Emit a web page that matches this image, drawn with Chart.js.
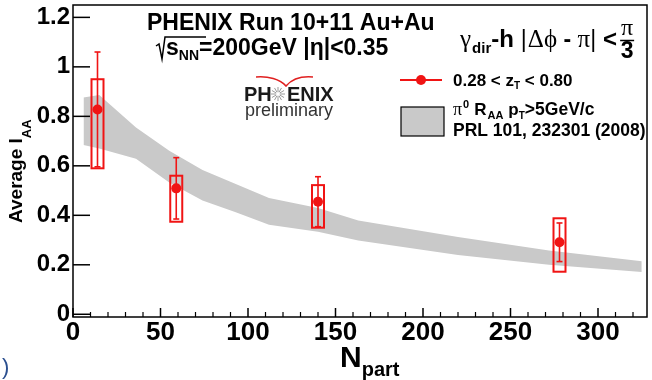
<!DOCTYPE html>
<html>
<head>
<meta charset="utf-8">
<title>Average IAA vs Npart</title>
<script src="https://cdn.jsdelivr.net/npm/chart.js@4"></script>
<style>
  html, body { margin: 0; padding: 0; background: #fff; }
  #wrap { position: relative; width: 652px; height: 380px; }
</style>
</head>
<body>
<div id="wrap"><canvas id="iaaChart"></canvas></div>
<script>
"use strict";

// gamma_dir-h points, 0.28 < zT < 0.80
const nPart = [14, 59, 140, 278];
const iAA = [0.828, 0.509, 0.455, 0.291];
const statErr = [0.232, 0.124, 0.101, 0.078];
const sysHigh = [0.122, 0.051, 0.067, 0.097];
const sysLow = [0.238, 0.135, 0.105, 0.119];

// pi0 RAA band (pT > 5 GeV/c)
const bandN = [6, 15, 36, 55, 74, 93, 112, 140, 163, 220, 272, 325];
const bandHigh = [0.876, 0.886, 0.755, 0.661, 0.583, 0.527, 0.470, 0.430, 0.379, 0.312, 0.258, 0.214];
const bandLow = [0.684, 0.670, 0.629, 0.533, 0.460, 0.412, 0.362, 0.334, 0.298, 0.240, 0.200, 0.171];

const xTicks = [0, 50, 100, 150, 200, 250, 300];
const yTicks = [0, 0.2, 0.4, 0.6, 0.8, 1, 1.2];

const RED = "#f01414";
const BAND = "#c9c9c9";
const SANS = '"Liberation Sans", Arial, sans-serif';
const SERIF = '"Liberation Serif", "Times New Roman", serif';

function line(ctx, x1, y1, x2, y2) {
  ctx.beginPath();
  ctx.moveTo(x1, y1);
  ctx.lineTo(x2, y2);
  ctx.stroke();
}

// draws a run of text pieces left to right, each with its own font and vertical shift
function drawRuns(ctx, x, y, runs) {
  for (const r of runs) {
    ctx.font = r.font;
    ctx.fillText(r.t, x, y + (r.dy || 0));
    x += ctx.measureText(r.t).width + (r.gap || 0);
  }
  return x;
}

const frameAndTicks = {
  id: "frameAndTicks",
  afterDraw(chart) {
    const { ctx, chartArea: a } = chart;
    const xs = chart.scales.x;
    const ys = chart.scales.y;
    ctx.save();
    ctx.strokeStyle = "#000";
    ctx.lineWidth = 1.5;
    ctx.strokeRect(a.left, a.top, a.right - a.left, a.bottom - a.top);
    for (const v of yTicks) {
      const y = ys.getPixelForValue(v);
      line(ctx, a.left, y, a.left + 17, y);
    }
    for (const v of xTicks) {
      const x = xs.getPixelForValue(v);
      line(ctx, x, a.bottom, x, a.bottom - 9);
    }
    ctx.lineWidth = 1.2;
    for (let v = 10; v < xs.max; v += 10) {
      if (v % 50 === 0) continue;
      const x = xs.getPixelForValue(v);
      line(ctx, x, a.bottom, x, a.bottom - 5);
    }
    ctx.restore();
  }
};

const errorBoxes = {
  id: "errorBoxes",
  afterDatasetsDraw(chart) {
    const { ctx } = chart;
    const xs = chart.scales.x;
    const ys = chart.scales.y;
    ctx.save();
    ctx.strokeStyle = RED;
    nPart.forEach((n, i) => {
      const x = xs.getPixelForValue(n);
      const yTop = ys.getPixelForValue(iAA[i] + sysHigh[i]);
      const yBot = ys.getPixelForValue(iAA[i] - sysLow[i]);
      ctx.lineWidth = 2;
      ctx.strokeRect(x - 6, yTop, 12, yBot - yTop);
      const sTop = ys.getPixelForValue(iAA[i] + statErr[i]);
      const sBot = ys.getPixelForValue(iAA[i] - statErr[i]);
      ctx.lineWidth = 1.6;
      line(ctx, x, sTop, x, sBot);
      line(ctx, x - 3, sTop, x + 3, sTop);
      line(ctx, x - 3, sBot, x + 3, sBot);
    });
    ctx.restore();
  }
};

const annotations = {
  id: "annotations",
  afterDraw(chart) {
    const { ctx } = chart;
    ctx.save();
    ctx.fillStyle = "#000";
    ctx.textBaseline = "alphabetic";
    ctx.textAlign = "left";

    // run info
    ctx.font = `bold 23px ${SANS}`;
    ctx.fillText("PHENIX Run 10+11 Au+Au", 147, 30);

    // sqrt(sNN) sign
    ctx.strokeStyle = "#000";
    ctx.lineWidth = 1.5;
    ctx.beginPath();
    ctx.moveTo(156, 46);
    ctx.lineTo(159, 44);
    ctx.lineTo(162, 59);
    ctx.lineTo(165, 37);
    ctx.lineTo(206, 37);
    ctx.stroke();
    drawRuns(ctx, 166, 55, [
      { t: "s", font: `bold 23px ${SANS}` },
      { t: "NN", font: `bold 14px ${SANS}`, dy: 5 },
      { t: "=200GeV |η|<0.35", font: `bold 23px ${SANS}` }
    ]);

    // correlation cut
    let x = drawRuns(ctx, 460, 47, [
      { t: "γ", font: `25px ${SERIF}`, gap: 1 },
      { t: "dir", font: `bold 15px ${SANS}`, dy: 6 },
      { t: "-h", font: `bold 24px ${SANS}`, gap: 7 },
      { t: "|", font: `23px ${SANS}`, gap: 1 },
      { t: "Δϕ", font: `25px ${SERIF}` },
      { t: " - ", font: `bold 23px ${SANS}` },
      { t: "π", font: `25px ${SERIF}` },
      { t: "|", font: `23px ${SANS}`, gap: 7 },
      { t: "<", font: `bold 24px ${SANS}`, gap: 3 }
    ]);
    ctx.textAlign = "center";
    ctx.font = `24px ${SERIF}`;
    ctx.fillText("π", x + 7, 35);
    ctx.font = `bold 23px ${SANS}`;
    ctx.fillText("3", x + 7, 58);
    ctx.lineWidth = 1.5;
    line(ctx, x, 40.5, x + 14, 40.5);
    ctx.textAlign = "left";

    // legend: data points
    ctx.strokeStyle = RED;
    ctx.fillStyle = RED;
    ctx.lineWidth = 2;
    line(ctx, 400, 80, 442, 80);
    ctx.beginPath();
    ctx.arc(421, 80, 5, 0, Math.PI * 2);
    ctx.fill();
    ctx.fillStyle = "#000";
    drawRuns(ctx, 453, 86, [
      { t: "0.28 < z", font: `bold 17px ${SANS}` },
      { t: "T", font: `bold 10px ${SANS}`, dy: 3 },
      { t: " < 0.80", font: `bold 17px ${SANS}` }
    ]);

    // legend: band
    ctx.fillStyle = BAND;
    ctx.fillRect(401, 107, 43, 29);
    ctx.strokeStyle = "#000";
    ctx.lineWidth = 1.2;
    ctx.strokeRect(401, 107, 43, 29);
    ctx.fillStyle = "#000";
    drawRuns(ctx, 453, 115, [
      { t: "π", font: `18px ${SERIF}`, gap: 1 },
      { t: "0", font: `bold 11px ${SANS}`, dy: -7, gap: 5 },
      { t: "R", font: `bold 17px ${SANS}`, gap: 1 },
      { t: "AA", font: `bold 11px ${SANS}`, dy: 4, gap: 5 },
      { t: "p", font: `bold 17px ${SANS}` },
      { t: "T", font: `bold 10px ${SANS}`, dy: 4 },
      { t: ">5GeV/c", font: `bold 17.5px ${SANS}` }
    ]);
    ctx.font = `bold 17.5px ${SANS}`;
    ctx.fillText("PRL 101, 232301 (2008)", 453, 136);

    // PHENIX preliminary logo
    ctx.strokeStyle = "#e02020";
    ctx.lineWidth = 1.6;
    ctx.beginPath();
    ctx.moveTo(256, 77);
    ctx.bezierCurveTo(268, 76, 280, 79, 286, 86);
    ctx.bezierCurveTo(292, 79, 302, 76, 313, 77);
    ctx.stroke();
    ctx.fillStyle = "#1a1a1a";
    ctx.font = `bold 20px ${SANS}`;
    ctx.fillText("PH", 244, 101);
    ctx.fillText("ENIX", 287, 101);
    ctx.strokeStyle = "#9a9a9a";
    ctx.lineWidth = 1;
    for (let k = 0; k < 12; k++) {
      const ang = (k * Math.PI) / 6;
      line(ctx, 278 + Math.cos(ang) * 2, 94 + Math.sin(ang) * 2, 278 + Math.cos(ang) * 7, 94 + Math.sin(ang) * 7);
    }
    ctx.fillStyle = "#333";
    ctx.font = `18px ${SANS}`;
    ctx.fillText("preliminary", 245, 116);

    // axis titles
    ctx.fillStyle = "#000";
    drawRuns(ctx, 340, 367, [
      { t: "N", font: `bold 30px ${SANS}` },
      { t: "part", font: `bold 20px ${SANS}`, dy: 9 }
    ]);
    ctx.save();
    ctx.translate(22, 223);
    ctx.rotate(-Math.PI / 2);
    drawRuns(ctx, 0, 0, [
      { t: "Average I", font: `bold 19px ${SANS}` },
      { t: "AA", font: `bold 13px ${SANS}`, dy: 9 }
    ]);
    ctx.restore();

    ctx.fillStyle = "#2b4f8f";
    ctx.font = `22px ${SANS}`;
    ctx.fillText(")", 2, 374);
    ctx.restore();
  }
};

function buildChart() {
  const ctx = document.getElementById("iaaChart");
  const tickFont = (size) => ({ family: SANS, size, weight: "bold" });

  return new Chart(ctx, {
    type: "line",
    data: {
      datasets: [
        {
          label: "0.28 < zT < 0.80",
          data: nPart.map((n, i) => ({ x: n, y: iAA[i] })),
          showLine: false,
          pointRadius: 5,
          pointBackgroundColor: RED,
          pointBorderColor: RED,
          pointBorderWidth: 0
        },
        {
          label: "band high",
          data: bandN.map((n, i) => ({ x: n, y: bandHigh[i] })),
          borderWidth: 0,
          borderColor: BAND,
          pointRadius: 0,
          fill: false
        },
        {
          label: "band low",
          data: bandN.map((n, i) => ({ x: n, y: bandLow[i] })),
          borderWidth: 0,
          borderColor: BAND,
          backgroundColor: BAND,
          pointRadius: 0,
          fill: "-1"
        }
      ]
    },
    options: {
      responsive: false,
      animation: false,
      devicePixelRatio: 1,
      layout: { padding: { top: 5, right: 4, left: 0, bottom: 0 } },
      plugins: {
        legend: { display: false },
        tooltip: { enabled: false }
      },
      scales: {
        x: {
          type: "linear",
          min: 0,
          max: 328,
          grid: { display: false, drawTicks: false },
          border: { display: false },
          afterBuildTicks: (s) => { s.ticks = xTicks.map((v) => ({ value: v })); },
          afterFit: (s) => { s.height = 63; s.paddingLeft = 0; s.paddingRight = 0; },
          ticks: {
            color: "#000",
            font: tickFont(26),
            padding: 0,
            maxRotation: 0,
            callback: (v) => String(v)
          }
        },
        y: {
          type: "linear",
          min: -0.011,
          max: 1.25,
          grid: { display: false, drawTicks: false },
          border: { display: false },
          afterBuildTicks: (s) => { s.ticks = yTicks.map((v) => ({ value: v })); },
          afterFit: (s) => { s.width = 73; s.paddingTop = 0; s.paddingBottom = 0; },
          ticks: {
            color: "#000",
            font: tickFont(24),
            padding: 3,
            callback: (v) => String(Number(v.toFixed(1)))
          }
        }
      }
    },
    plugins: [errorBoxes, frameAndTicks, annotations]
  });
}

const canvas = document.getElementById("iaaChart");
canvas.width = 652;
canvas.height = 380;
buildChart();
</script>
</body>
</html>
